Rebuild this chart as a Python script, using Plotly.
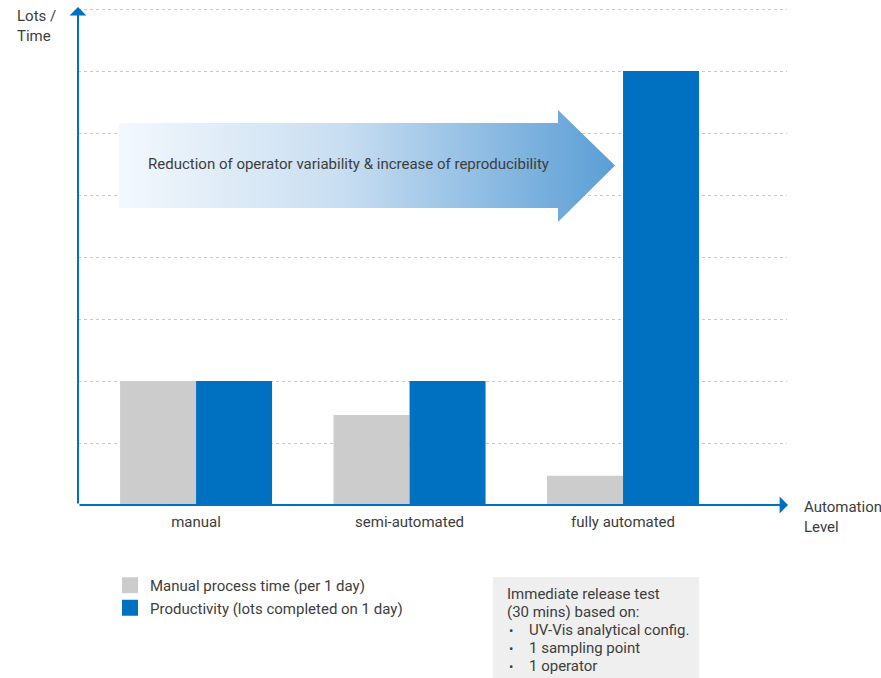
import plotly.graph_objects as go

# ---------------- data ----------------
categories = ["manual", "semi-automated", "fully automated"]
manual_time = [2.0, 1.45, 0.47]
productivity = [2.0, 2.0, 7.0]
series_names = ["Manual process time (per 1 day)", "Productivity (lots completed on 1 day)"]
y_label = "Lots /<br>Time"
x_label = "Automation<br>Level"
arrow_text = "Reduction of operator variability & increase of reproducibility"
info_header = ["Immediate release test", "(30 mins) based on:"]
info_bullets = ["UV-Vis analytical config.", "1 sampling point", "1 operator"]
y_max = 8

# ---------------- style / layout helpers ----------------
W, H = 881, 678
L, R, T, B = 78, 94, 5, 173
PW, PH = W - L - R, H - T - B
GRID_PX = 496  # pixels spanned by 0..y_max
GRAY = "#cdcccc"
BLUE = "#0070c0"
TXT = "#3d3d3d"
FONT = "Roboto"
FS = 15


def px(x):
    return (x - L) / PW


def py(y):
    return (H - B - y) / PH


xpos = list(range(len(categories)))

fig = go.Figure()

# gradient arrow (decoration, in paper-like overlay axis)
ax_x = [px(119), px(558), px(558), px(615), px(558), px(558), px(119), px(119)]
ax_y = [py(123), py(123), py(110), py(165.5), py(222), py(208), py(208), py(123)]
fig.add_trace(go.Scatter(
    x=ax_x, y=ax_y, xaxis="x2", yaxis="y2", mode="none", fill="toself",
    fillgradient=dict(type="horizontal",
                      colorscale=[[0, "#f3f8fd"], [0.45, "#c8def1"], [1, "#5a9ed5"]]),
    showlegend=False, hoverinfo="skip",
))

fig.add_trace(go.Bar(x=xpos, y=manual_time, name=series_names[0], marker_color=GRAY,
                     marker_line_width=0, offsetgroup="a", showlegend=False))
fig.add_trace(go.Bar(x=xpos, y=productivity, name=series_names[1], marker_color=BLUE,
                     marker_line_width=0, offsetgroup="b", showlegend=False))

# legend entries (square swatches)
for name, col in zip(series_names, [GRAY, BLUE]):
    fig.add_trace(go.Scatter(x=[None], y=[None], mode="markers", name=name,
                             marker=dict(symbol="square", size=16, color=col)))

annotations = [
    dict(text=y_label, x=px(15), y=py(5), xref="paper", yref="paper", xanchor="left",
         yanchor="top", align="left", showarrow=False, font=dict(size=FS, color=TXT)),
    dict(text=x_label, x=px(802), y=py(517), xref="paper", yref="paper", xanchor="left",
         yanchor="middle", align="left", showarrow=False, font=dict(size=FS, color=TXT)),
    dict(text=arrow_text, x=px(348), y=py(164), xref="paper", yref="paper", xanchor="center",
         yanchor="middle", showarrow=False, font=dict(size=FS, color=TXT)),
    # axis arrows
    dict(text="", x=0, y=py(7), xref="paper", yref="paper", ax=0, ay=498, axref="pixel",
         ayref="pixel", showarrow=True, arrowhead=1, arrowsize=1.4, arrowwidth=2,
         arrowcolor=BLUE, standoff=0),
    dict(text="", x=px(788), y=0, xref="paper", yref="paper", ax=-710, ay=0, axref="pixel",
         ayref="pixel", showarrow=True, arrowhead=1, arrowsize=1.4, arrowwidth=2,
         arrowcolor=BLUE, standoff=0),
]

# info box text, one annotation per line
line_y = [594, 612, 630, 648, 666]
for i, s in enumerate(info_header):
    annotations.append(dict(text=s, x=px(505), y=py(line_y[i]), xref="paper", yref="paper",
                            xanchor="left", yanchor="middle", showarrow=False,
                            font=dict(size=FS, color=TXT)))
for j, s in enumerate(info_bullets):
    yy = py(line_y[len(info_header) + j])
    annotations.append(dict(text="•", x=px(507), y=yy, xref="paper", yref="paper",
                            xanchor="left", yanchor="middle", showarrow=False,
                            font=dict(size=13, color=TXT)))
    annotations.append(dict(text=s, x=px(527), y=yy, xref="paper", yref="paper",
                            xanchor="left", yanchor="middle", showarrow=False,
                            font=dict(size=FS, color=TXT)))

shapes = [dict(type="rect", xref="paper", yref="paper", x0=px(493), x1=px(699),
               y0=py(678), y1=py(577), fillcolor="#efefef", line=dict(width=0), layer="below")]

fig.update_layout(
    width=W, height=H, margin=dict(l=L, r=R, t=T, b=B),
    paper_bgcolor="white", plot_bgcolor="white",
    font=dict(family=FONT, size=FS, color=TXT),
    barmode="group", bargap=0.288, bargroupgap=0,
    xaxis=dict(range=[-0.553, 2.768], tickvals=xpos, ticktext=categories, showgrid=False,
               zeroline=False, showline=False, ticks="", ticklabelstandoff=6,
               tickfont=dict(size=FS, color=TXT)),
    yaxis=dict(range=[0, y_max * PH / GRID_PX], dtick=1, showticklabels=False, showgrid=True,
               gridcolor="#c9c9c9", griddash="dot", gridwidth=1, zeroline=False, showline=False),
    xaxis2=dict(range=[0, 1], overlaying="x", visible=False),
    yaxis2=dict(range=[0, 1], overlaying="y", visible=False),
    legend=dict(x=px(110), y=py(569), xanchor="left", yanchor="top", bgcolor="rgba(0,0,0,0)",
                font=dict(size=FS, color=TXT), tracegroupgap=0),
    annotations=annotations, shapes=shapes,
)

fig.write_html("out.html")
